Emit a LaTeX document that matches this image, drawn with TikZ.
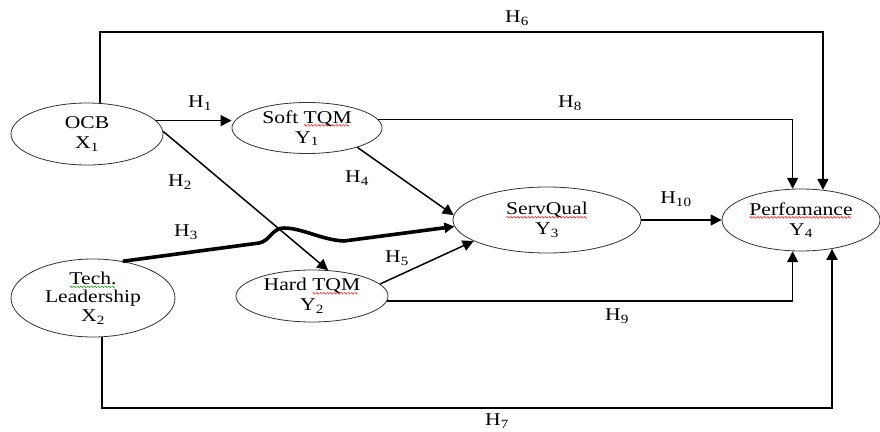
\documentclass[tikz,border=0pt]{standalone}
\usepackage{fontspec}
\setmainfont[FakeStretch=1.2]{Liberation Serif}
\usetikzlibrary{arrows.meta,shapes.geometric}
\newsavebox\sqbox
\newcommand\sq[2]{\sbox\sqbox{#2}\rlap{\raisebox{-3.5pt}[0pt][0pt]{\hbox to \wd\sqbox{\leaders\hbox{\tikz[x=1pt,y=1pt]\draw[#1,line width=0.5pt] (0,0) sin (0.75,0.9) cos (1.5,0) sin (2.25,-0.9) cos (3,0);}\hfill}}}\usebox\sqbox}
\begin{document}
\begin{tikzpicture}[x=1pt,y=-1pt,
  every node/.style={font=\fontsize{18}{20}\selectfont},
  var/.style={draw=black!80, line width=0.8pt, shape=ellipse, inner sep=0pt, align=center},
  arr/.style={line width=1.5pt, -{Triangle[length=11pt,width=11pt]}},
  thickarr/.style={line width=3.6pt, -{Triangle[length=10pt,width=10pt]}},
  hlab/.style={inner sep=0pt}
]
\useasboundingbox (0,0) rectangle (880,431);
\fill[white] (0,0) rectangle (880,431);

% variables
\node[var, minimum width=152pt, minimum height=62pt] (ocb) at (87,134) {OCB\\X\textsubscript{1}};
\node[var, minimum width=150pt, minimum height=51pt] (soft) at (307,128) {Soft \sq{red}{TQM}\\Y\textsubscript{1}};
\node[var, minimum width=152pt, minimum height=52pt] (hard) at (312,296) {Hard \sq{red}{TQM}\\Y\textsubscript{2}};
\node[var, minimum width=188pt, minimum height=66pt] (sq) at (547,220) {\sq{red}{ServQual}\\Y\textsubscript{3}};
\node[var, minimum width=158pt, minimum height=62pt] (perf) at (801,220) {\sq{red}{Perfomance}\\Y\textsubscript{4}};
\node[var, minimum width=164pt, minimum height=78pt, font=\fontsize{18}{18.5}\selectfont] (tl) at (93,298) {\sq{green!60!black}{Tech.}\\Leadership\\X\textsubscript{2}};

% routing helpers
\coordinate (ytop) at (0,32);
\coordinate (ybot) at (0,408);

% connectors
\draw[arr, line width=1.8pt] (ocb.67) -- (ocb.67 |- ytop) -| (perf.54);
\draw[arr, line width=1.8pt] (tl.-77) -- (tl.-77 |- ybot) -| (perf.-43);
\draw[arr] (soft.7) -| (perf.105);
\draw[arr] (hard.-4) -| (perf.-105);
\draw[arr] (ocb.11) -- (soft.west |- ocb.11);
\draw[arr] (ocb.2) -- (hard.58);
\draw[arr] (soft.-21) -- (sq.177);
\draw[arr] (hard.10) -- (sq.196);
\draw[arr] (sq.east) -- (perf.west);
\coordinate (b1) at (259,243);
\coordinate (b2) at (284,228);
\coordinate (b3) at (344,241);
\draw[thickarr] (tl.51) -- (b1) .. controls (270,241) and (272,228) .. (b2) .. controls (302,228) and (322,240) .. (b3) -- (sq.184);

% labels
\node[hlab] (h6) at (517,18) {H\textsubscript{6}};
\node[hlab] (h1) at (200,103) {H\textsubscript{1}};
\node[hlab] (h8) at (570,103) {H\textsubscript{8}};
\node[hlab] (h2) at (180,182) {H\textsubscript{2}};
\node[hlab] (h4) at (357,178) {H\textsubscript{4}};
\node[hlab] (h10) at (676,199) {H\textsubscript{10}};
\node[hlab] (h3) at (186,232) {H\textsubscript{3}};
\node[hlab] (h5) at (397,258) {H\textsubscript{5}};
\node[hlab] (h9) at (617,316) {H\textsubscript{9}};
\node[hlab] (h7) at (497,421) {H\textsubscript{7}};
\end{tikzpicture}
\end{document}
